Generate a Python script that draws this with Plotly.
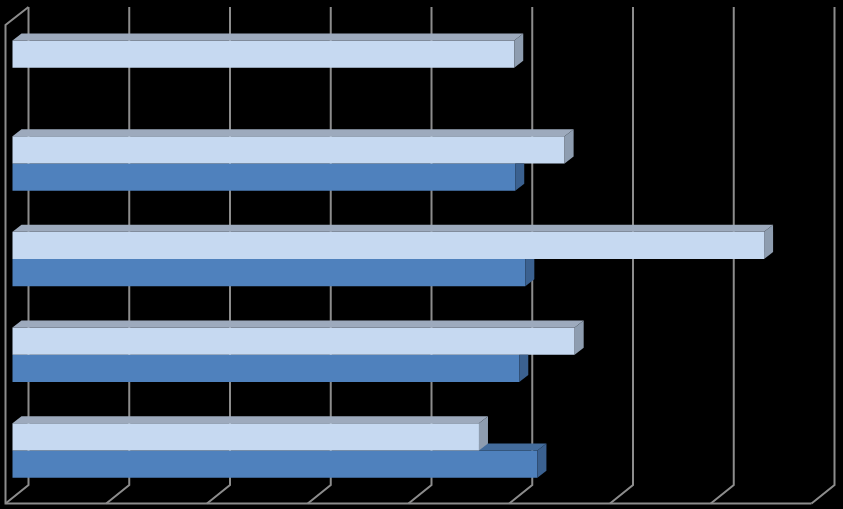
import plotly.graph_objects as go

# data (gridlines every 10 units, no labels shown)
categories = ["A", "B", "C", "D", "E"]          # bottom -> top
dark_values = [52.1, 50.3, 50.9, 49.9, None]    # darker blue series
light_values = [46.3, 55.8, 74.6, 54.8, 49.8]   # pale blue series
grid_ticks = [0, 10, 20, 30, 40, 50, 60, 70, 80]

W, H = 843, 509
SX = 10.075      # px per value unit
SY = 95.7        # px per category step
X0_PX = 12.5     # where value 0 sits on the bars' front face
Y0_PX = 450.5    # centre of the bottom category

x_rng = [-X0_PX / SX, (W - X0_PX) / SX]
y_rng = [(Y0_PX - H) / SY, Y0_PX / SY]


def py(p):
    # pixel row -> y data
    return (Y0_PX - p) / SY


# 3d depth offsets
BAR_DX, BAR_DY = 9 / SX, 7 / SY
BACK_DX, FRONT_DX = 16 / SX, -7 / SX
TOP_BACK, FLOOR_BACK, FLOOR_FRONT, TOP_FRONT = py(7), py(485), py(503.5), py(25)

bargap = 0.43
bar_h = (1 - bargap) / 2

LIGHT = dict(front="#C6D9F1", top="#9DAABD", side="#8E9DB0")
DARK = dict(front="#4F81BD", top="#436C9C", side="#3B6190")

fig = go.Figure()

# wall / floor lines on the base axes, so the bars cover them
gx, gy = [], []
for t in grid_ticks:
    gx += [t + BACK_DX, t + BACK_DX, t + FRONT_DX, None]
    gy += [TOP_BACK, FLOOR_BACK, FLOOR_FRONT, None]
gx += [grid_ticks[-1] + FRONT_DX, grid_ticks[0] + FRONT_DX, grid_ticks[0] + FRONT_DX, grid_ticks[0] + BACK_DX]
gy += [FLOOR_FRONT, FLOOR_FRONT, TOP_FRONT, TOP_BACK]
fig.add_trace(go.Scatter(x=gx, y=gy, mode="lines", line=dict(color="#8C8C8C", width=2),
                         hoverinfo="skip", showlegend=False))

ypos = list(range(len(categories)))
fig.add_trace(go.Bar(y=ypos, x=dark_values, orientation="h", marker=dict(color=DARK["front"], line_width=0),
                     xaxis="x2", yaxis="y2", name="dark", showlegend=False))
fig.add_trace(go.Bar(y=ypos, x=light_values, orientation="h", marker=dict(color=LIGHT["front"], line_width=0),
                     xaxis="x2", yaxis="y2", name="light", showlegend=False))


def poly(xs, ys, color):
    fig.add_trace(go.Scatter(x=xs + [xs[0]], y=ys + [ys[0]], mode="lines", fill="toself",
                             fillcolor=color, line=dict(width=0, color=color),
                             xaxis="x2", yaxis="y2", hoverinfo="skip", showlegend=False))


# top faces and end caps, bottom group first
for i, (d, l) in enumerate(zip(dark_values, light_values)):
    b = i - bar_h          # dark bottom
    t = i                  # dark top / light bottom
    lt = i + bar_h         # light top
    if d:
        if l is None or l < d:
            x_start = l if l else 0
            if x_start < BAR_DX:
                poly([0, d, d + BAR_DX, BAR_DX], [t, t, t + BAR_DY, t + BAR_DY], DARK["top"])
            else:
                poly([x_start, d, d + BAR_DX, x_start], [t, t, t + BAR_DY, t + BAR_DY], DARK["top"])
            poly([d, d + BAR_DX, d + BAR_DX, d], [b, b + BAR_DY, t + BAR_DY, t], DARK["side"])
        else:
            poly([d, d + BAR_DX, d + BAR_DX, d], [b, b + BAR_DY, t, t], DARK["side"])
    if l:
        poly([0, l, l + BAR_DX, BAR_DX], [lt, lt, lt + BAR_DY, lt + BAR_DY], LIGHT["top"])
        poly([l, l + BAR_DX, l + BAR_DX, l], [t, t + BAR_DY, lt + BAR_DY, lt], LIGHT["side"])

ax = dict(range=x_rng, visible=False, fixedrange=True)
ay = dict(range=y_rng, visible=False, fixedrange=True,
          tickvals=ypos, ticktext=categories)
fig.update_layout(
    width=W, height=H,
    margin=dict(l=0, r=0, t=0, b=0),
    paper_bgcolor="black", plot_bgcolor="black",
    barmode="group", bargap=bargap, bargroupgap=0,
    xaxis=ax, yaxis=ay,
    xaxis2=dict(ax, overlaying="x"), yaxis2=dict(ay, overlaying="y"),
)
# page body has an 8px default margin; drop it so the chart fills the window
fig.write_html("out.html", config={"displayModeBar": False},
               post_script="document.body.style.margin='0';document.body.style.background='black';"
                           "document.body.style.overflow='hidden';")
